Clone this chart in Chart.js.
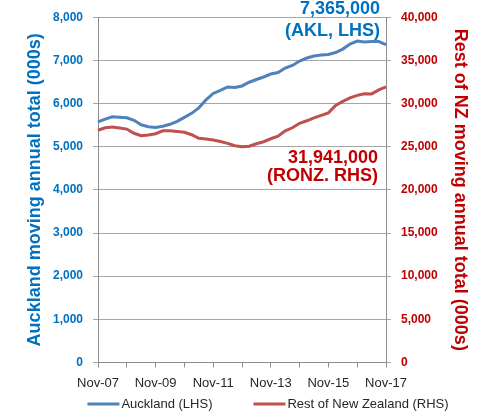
<!DOCTYPE html>
<html>
<head>
<meta charset="utf-8">
<script src="https://cdn.jsdelivr.net/npm/chart.js@4.4.0/dist/chart.umd.min.js"></script>
<style>
  html, body { margin: 0; padding: 0; background: #fff; }
</style>
</head>
<body>
<canvas id="chart" width="486" height="416"></canvas>
<script>
// --- Data (quarterly readings, 000s) ---
const periods = [
  'Nov-07','Feb-08','May-08','Aug-08','Nov-08','Feb-09','May-09','Aug-09',
  'Nov-09','Feb-10','May-10','Aug-10','Nov-10','Feb-11','May-11','Aug-11',
  'Nov-11','Feb-12','May-12','Aug-12','Nov-12','Feb-13','May-13','Aug-13',
  'Nov-13','Feb-14','May-14','Aug-14','Nov-14','Feb-15','May-15','Aug-15',
  'Nov-15','Feb-16','May-16','Aug-16','Nov-16','Feb-17','May-17','Aug-17',
  'Nov-17'
];
const aucklandLHS = [
  5577, 5639, 5692, 5680, 5669, 5611, 5507, 5461,
  5445, 5473, 5519, 5588, 5680, 5773, 5900, 6084,
  6234, 6304, 6384, 6373, 6407, 6493, 6557, 6615,
  6684, 6719, 6823, 6881, 6984, 7054, 7100, 7123,
  7135, 7181, 7261, 7377, 7446, 7423, 7435, 7435,
  7365
];
const restOfNzRHS = [
  26900, 27190, 27270, 27155, 27040, 26555, 26270, 26360,
  26500, 26845, 26845, 26765, 26670, 26385, 25980, 25900,
  25770, 25600, 25380, 25115, 25000, 25055, 25345, 25575,
  25920, 26210, 26845, 27190, 27710, 28000, 28345, 28635,
  28920, 29785, 30250, 30655, 30940, 31135, 31115, 31575,
  31941
];
const seriesNames = ['Auckland (LHS)', 'Rest of New Zealand (RHS)'];
const leftTitle = 'Auckland moving annual total (000s)';
const rightTitle = 'Rest of NZ moving annual total (000s)';

// --- Colours ---
const colors = {
  blueText: '#0070C0',
  redText: '#C00000',
  blueLine: '#4F81BD',
  redLine: '#C0504D',
  grid: '#A6A6A6',
  axis: '#8C8C8C',
  text: '#262626'
};
const FONT = "'Liberation Sans', Arial, sans-serif";
const fmt = (v) => Number(v).toLocaleString('en-US');

// Подписи последних значений
const endLabels = {
  id: 'endLabels',
  afterDraw(chart) {
    const { ctx, chartArea } = chart;
    const n = aucklandLHS.length - 1;
    ctx.save();
    ctx.font = 'bold 18px ' + FONT;
    ctx.textAlign = 'right';
    ctx.textBaseline = 'alphabetic';
    const xr = chartArea.right - 6;
    ctx.fillStyle = colors.blueText;
    ctx.fillText(fmt(aucklandLHS[n] * 1000), xr, chartArea.top - 3);
    ctx.fillText('(AKL, LHS)', xr, chartArea.top + 19);
    ctx.fillStyle = colors.redText;
    ctx.fillText(fmt(restOfNzRHS[n] * 1000), xr - 2, chartArea.top + 146);
    ctx.fillText('(RONZ. RHS)', xr - 2, chartArea.top + 164);
    ctx.restore();
  }
};

// Легенда внизу (линии 32px, как в Excel)
const bottomLegend = {
  id: 'bottomLegend',
  afterDraw(chart) {
    const { ctx } = chart;
    const sets = chart.data.datasets;
    const lineLen = 32, gapText = 2, gapItem = 41;
    ctx.save();
    ctx.font = '13px ' + FONT;
    ctx.textBaseline = 'middle';
    ctx.textAlign = 'left';
    const widths = sets.map(ds => lineLen + gapText + ctx.measureText(ds.label).width);
    const total = widths.reduce((a, b) => a + b, 0) + gapItem * (sets.length - 1);
    let x = chart.width / 2 + 25 - total / 2;
    const y = chart.height - 12;
    sets.forEach((ds, i) => {
      ctx.strokeStyle = ds.borderColor;
      ctx.lineWidth = 3;
      ctx.beginPath();
      ctx.moveTo(x, y);
      ctx.lineTo(x + lineLen, y);
      ctx.stroke();
      ctx.fillStyle = colors.text;
      ctx.fillText(ds.label, x + lineLen + gapText, y);
      x += widths[i] + gapItem;
    });
    ctx.restore();
  }
};

new Chart(document.getElementById('chart'), {
  type: 'line',
  data: {
    labels: periods,
    datasets: [
      { label: seriesNames[0], data: aucklandLHS, yAxisID: 'y',
        borderColor: colors.blueLine, backgroundColor: colors.blueLine,
        borderWidth: 3, pointRadius: 0, tension: 0 },
      { label: seriesNames[1], data: restOfNzRHS, yAxisID: 'y1',
        borderColor: colors.redLine, backgroundColor: colors.redLine,
        borderWidth: 3, pointRadius: 0, tension: 0 }
    ]
  },
  options: {
    responsive: false,
    animation: false,
    devicePixelRatio: 1,
    layout: { padding: { top: 16, left: 0, right: 0, bottom: 26 } },
    plugins: {
      tooltip: { enabled: false },
      legend: { display: false }
    },
    scales: {
      x: {
        type: 'category',
        offset: false,
        afterFit: (s) => { s.height = 27.5; },
        grid: {
          drawOnChartArea: false, drawTicks: true, tickLength: 5,
          tickColor: (c) => (c.index % 4 === 0 ? colors.axis : 'rgba(0,0,0,0)')
        },
        border: { color: colors.axis },
        ticks: {
          autoSkip: false, maxRotation: 0, padding: 8, color: colors.text,
          font: { family: FONT, size: 13 },
          callback: (v, i) => (i % 8 === 0 ? periods[i] : '')
        }
      },
      y: {
        position: 'left',
        min: 0, max: 8000,
        afterFit: (s) => { s.width = 98; },
        grid: { color: colors.grid, tickLength: 5 },
        border: { color: colors.axis },
        ticks: {
          stepSize: 1000, padding: 10, color: colors.blueText,
          font: { family: FONT, size: 12, weight: 'bold' },
          callback: (v) => fmt(v)
        },
        title: {
          display: true, text: leftTitle, color: colors.blueText,
          font: { family: FONT, size: 18, weight: 'bold' },
          padding: { top: 24, bottom: 0 }
        }
      },
      y1: {
        position: 'right',
        min: 0, max: 40000,
        afterFit: (s) => { s.width = 100; },
        grid: { drawOnChartArea: false, color: colors.grid, tickLength: 5 },
        border: { color: colors.axis },
        ticks: {
          stepSize: 5000, padding: 10, color: colors.redText,
          font: { family: FONT, size: 12, weight: 'bold' },
          callback: (v) => fmt(v)
        },
        title: {
          display: true, text: rightTitle, color: colors.redText,
          font: { family: FONT, size: 18, weight: 'bold' },
          padding: { top: 15, bottom: 0 }
        }
      }
    }
  },
  plugins: [endLabels, bottomLegend]
});
</script>
</body>
</html>
